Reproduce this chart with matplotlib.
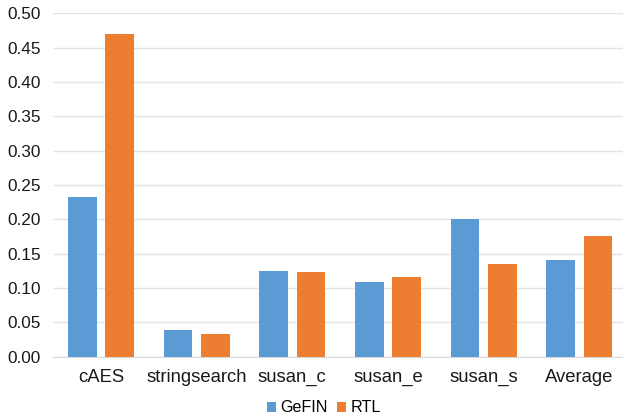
import matplotlib
matplotlib.use("Agg")
import matplotlib.pyplot as plt
import numpy as np

plt.rcParams["font.family"] = ["Liberation Sans", "DejaVu Sans"]

benchmarks = ["cAES", "stringsearch", "susan_c", "susan_e", "susan_s", "Average"]
gefin = [0.232, 0.039, 0.125, 0.109, 0.200, 0.141]
rtl = [0.470, 0.033, 0.124, 0.116, 0.135, 0.176]

blue = "#5B9BD5"
orange = "#ED7D31"

fig = plt.figure(figsize=(6.23, 4.17), dpi=100)
ax = fig.add_axes([53.2 / 623, (417 - 356.7) / 417, 574 / 623, (356.7 - 13.3) / 417])

x = np.arange(len(benchmarks))
w = 0.30
off = 0.196
ax.bar(x - off, gefin, w, color=blue, label="GeFIN", zorder=3)
ax.bar(x + off, rtl, w, color=orange, label="RTL", zorder=3)

ax.set_xlim(-0.5, len(benchmarks) - 0.5)
ax.set_ylim(0, 0.5)
yt = np.arange(0, 0.501, 0.05)
ax.set_yticks(yt)
ax.set_yticklabels([f"{v:.2f}" for v in yt], fontsize=12.4, color="#1a1a1a")
ax.set_xticks(x)
ax.set_xticklabels(benchmarks, fontsize=13.3, color="#1a1a1a")
ax.tick_params(axis="both", length=0)
ax.tick_params(axis="y", pad=9)
ax.tick_params(axis="x", pad=9)
ax.grid(axis="y", color="#E3E3E3", linewidth=1, zorder=0)
for s in ["top", "right", "left"]:
    ax.spines[s].set_visible(False)
ax.spines["bottom"].set_color("#D9D9D9")

fig.legend(loc="center", bbox_to_anchor=(324 / 623, 1 - 408 / 417), ncol=2,
           frameon=False, fontsize=11.6, handlelength=0.55, handleheight=0.55,
           handletextpad=0.25, columnspacing=0.6)

fig.savefig("out.png", dpi=100)
